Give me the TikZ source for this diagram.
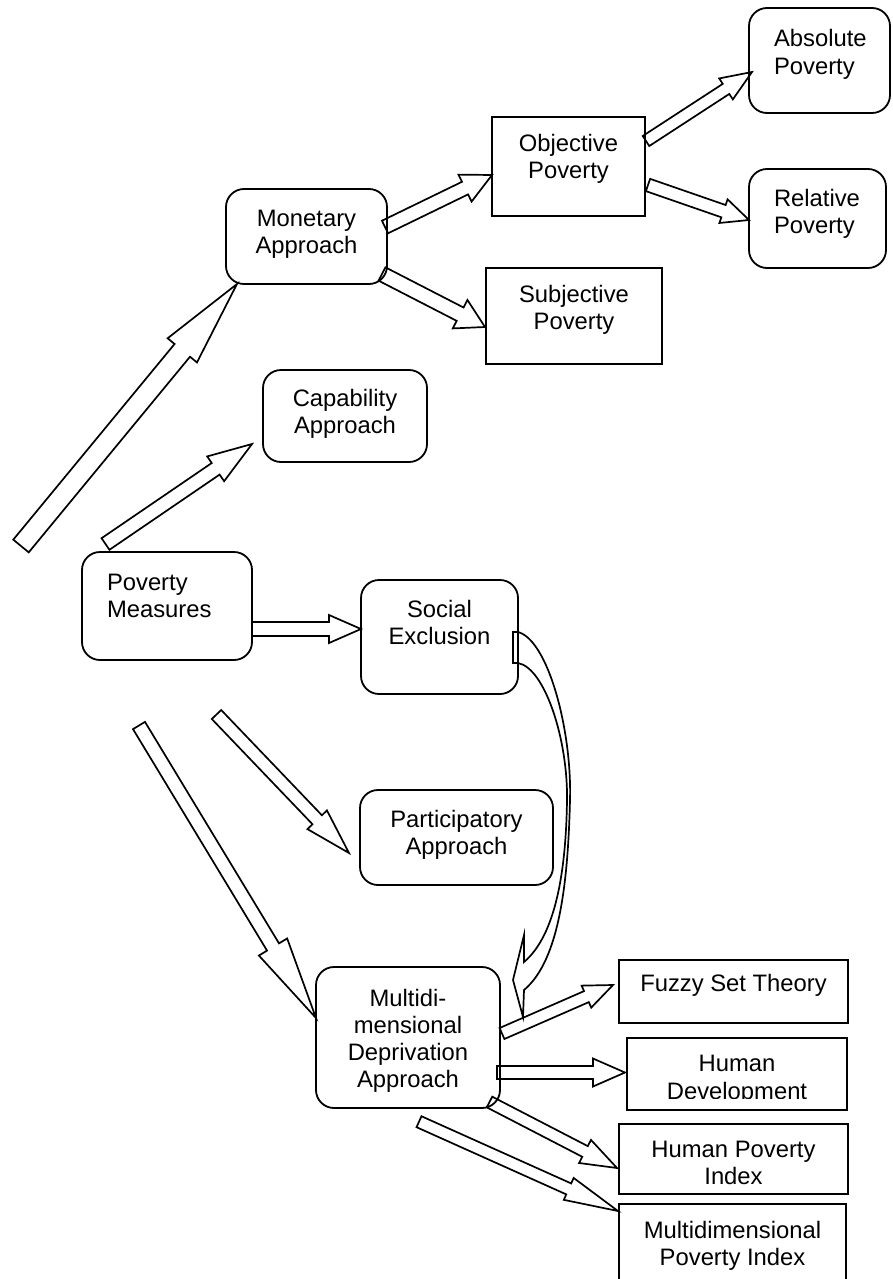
\documentclass[tikz,border=0pt]{standalone}
\usepackage{fontspec}
\setmainfont{Liberation Sans}
\usetikzlibrary{calc}
\tikzset{
  boxline/.style={draw, line width=1.8pt, inner sep=0pt, outer sep=0pt},
  rbox/.style={boxline, rounded corners=18pt},
  sbox/.style={boxline},
  txt/.style={inner sep=0pt, outer sep=0pt, font=\fontsize{23.8}{27.3}\selectfont},
  arrowline/.style={draw, line width=1.7pt, line join=miter},
}
\newcommand\mkbox[6]{\node[#1, minimum width={(#5-#3)*1pt}, minimum height={(#6-#4)*1pt}] (#2) at ({(#3+#5)/2},{(#4+#6)/2}) {};}
\newcommand\tc[4]{\node[txt, anchor=base] (#1) at (#2,#3) {#4};}
\newcommand\tw[4]{\node[txt, anchor=base west] (#1) at (#2,#3) {#4};}
% tail, tip, shaft width, head width, head length
\newcommand\blockarrow[5]{%
  \coordinate (ba-h) at ($(#2)!#5*1pt!(#1)$);
  \draw[arrowline] ($(#1)!#3*0.5pt!90:(#2)$) -- ($(ba-h)!#3*0.5pt!90:(#2)$)
    -- ($(ba-h)!#4*0.5pt!90:(#2)$) -- (#2) -- ($(ba-h)!#4*0.5pt!-90:(#2)$)
    -- ($(ba-h)!#3*0.5pt!-90:(#2)$) -- ($(#1)!#3*0.5pt!-90:(#2)$) -- cycle;
}
\begin{document}
\begin{tikzpicture}[x=1pt,y=-1pt]
\useasboundingbox (0,0) rectangle (892,1279);
\clip (0,0) rectangle (892,1279);

% boxes
\mkbox{rbox}{abs}{749}{8}{890}{113}
\mkbox{sbox}{obj}{492}{117}{645}{216}
\mkbox{rbox}{rel}{749}{169}{886}{268}
\mkbox{rbox}{mon}{226}{189}{387}{284}
\mkbox{sbox}{subj}{486}{268}{662}{364}
\mkbox{rbox}{cap}{263}{370}{427}{462}
\mkbox{rbox}{pm}{82}{552}{252}{660}
\mkbox{rbox}{soc}{361}{580}{518}{694}
\mkbox{rbox}{part}{360}{790}{553}{885}
\mkbox{rbox}{mda}{316}{967}{500}{1108}
\mkbox{sbox}{fuzzy}{619}{960}{848}{1023}
\mkbox{sbox}{hd}{627}{1038}{847}{1110}
\mkbox{sbox}{hpi}{619}{1124}{848}{1194}
\mkbox{sbox}{mpi}{619}{1204}{846}{1300}

% texts
\tw{abs1}{774}{47}{Absolute}
\tw{abs2}{774}{74.3}{Poverty}
\tc{obj1}{568.5}{151}{Objective}
\tc{obj2}{568.5}{178.3}{Poverty}
\tw{rel1}{774}{206}{Relative}
\tw{rel2}{774}{233.3}{Poverty}
\tc{mon1}{306.5}{226.5}{Monetary}
\tc{mon2}{306.5}{253.8}{Approach}
\tc{subj1}{574}{302}{Subjective}
\tc{subj2}{574}{329.3}{Poverty}
\tc{cap1}{345}{406.5}{Capability}
\tc{cap2}{345}{433.8}{Approach}
\tw{pm1}{107}{590}{Poverty}
\tw{pm2}{107}{617.3}{Measures}
\tc{soc1}{439.5}{617.5}{Social}
\tc{soc2}{439.5}{644.8}{Exclusion}
\tc{part1}{456.5}{827}{Participatory}
\tc{part2}{456.5}{854.3}{Approach}
\tc{mda1}{408}{1006}{Multidi-}
\tc{mda2}{408}{1033.3}{mensional}
\tc{mda3}{408}{1060.6}{Deprivation}
\tc{mda4}{408}{1087.9}{Approach}
\tc{fuzzy1}{733.5}{991.7}{Fuzzy Set Theory}
\begin{scope}
  \clip (627,1038) rectangle (847,1098.5);
  \tc{hd1}{737}{1071.7}{Human}
  \tc{hd2}{737}{1099}{Development}
\end{scope}
\tc{hpi1}{733.5}{1157}{Human Poverty}
\tc{hpi2}{733.5}{1184.3}{Index}
\tc{mpi1}{732.5}{1238}{Multidimensional}
\tc{mpi2}{732.5}{1265.3}{Poverty Index}

% arrow end points
\coordinate (t1) at (21,546);      \coordinate (p1) at (237,284);
\coordinate (t2) at (385,227);     \coordinate (p2) at (492,175);
\coordinate (t3) at (646,141);     \coordinate (p3) at (752,72);
\coordinate (t4) at (648,185);     \coordinate (p4) at (749,220);
\coordinate (t5) at (382,274);     \coordinate (p5) at (485,327);
\coordinate (t6) at (105.5,544);   \coordinate (p6) at (252,444);
\coordinate (t7) at (252,629);     \coordinate (p7) at (361,629);
\coordinate (t8) at (216.5,714.5); \coordinate (p8) at (349,853);
\coordinate (t9) at (139,725.5);   \coordinate (p9) at (316,1018);
\coordinate (t10) at (502,1033.5); \coordinate (p10) at (613,985);
\coordinate (t11) at (497,1072.5); \coordinate (p11) at (625,1072.5);
\coordinate (t12) at (489.5,1102); \coordinate (p12) at (617,1168);
\coordinate (t13) at (419,1121.7); \coordinate (p13) at (618,1211);

\blockarrow{t1}{p1}{20}{38}{86}
\blockarrow{t2}{p2}{14}{30}{30}
\blockarrow{t3}{p3}{12}{25}{31}
\blockarrow{t4}{p4}{13}{25}{27}
\blockarrow{t5}{p5}{15}{32}{28}
\blockarrow{t6}{p6}{14}{30}{44}
\blockarrow{t7}{p7}{14}{28}{32}
\blockarrow{t8}{p8}{13}{27}{46}
\blockarrow{t9}{p9}{14}{33}{83}
\blockarrow{t10}{p10}{12}{24}{29}
\blockarrow{t11}{p11}{13}{28}{32}
\blockarrow{t12}{p12}{12}{26}{36}
\blockarrow{t13}{p13}{12}{24}{54}

% curved arrow from Social Exclusion to Multidimensional Deprivation
\coordinate (ca-s1) at (513,632);
\coordinate (ca-s2) at (513,663);
\coordinate (ca-tip) at (523,1017);
\draw[arrowline] (ca-s1) -- (518,632)
  .. controls (548,640) and (572,730) .. (570,800)
  .. controls (568,880) and (560,960) .. (524,990)
  -- (ca-tip) -- (513,980) -- (524,935) -- (524,962)
  .. controls (556,935) and (566,870) .. (567,800)
  .. controls (568,740) and (545,668) .. (518,663)
  -- (ca-s2) -- cycle;
\end{tikzpicture}
\end{document}
